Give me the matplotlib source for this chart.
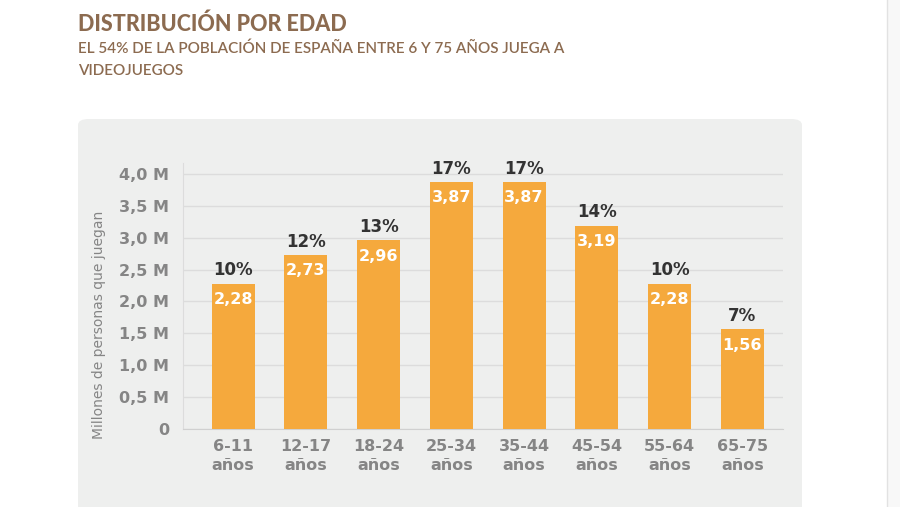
import matplotlib.pyplot as plt
from matplotlib.patches import FancyBboxPatch, Rectangle
from matplotlib.lines import Line2D

# datos
categorias = ['6-11\naños', '12-17\naños', '18-24\naños', '25-34\naños',
              '35-44\naños', '45-54\naños', '55-64\naños', '65-75\naños']
millones = [2.28, 2.73, 2.96, 3.87, 3.87, 3.19, 2.28, 1.56]
porcentajes = [10, 12, 13, 17, 17, 14, 10, 7]
ticks_y = [0, 0.5, 1.0, 1.5, 2.0, 2.5, 3.0, 3.5, 4.0]
ticks_y_txt = ['0', '0,5 M', '1,0 M', '1,5 M', '2,0 M', '2,5 M', '3,0 M', '3,5 M', '4,0 M']

plt.rcParams['font.family'] = ['DejaVu Sans']

marron = '#8c6b50'
gris = '#858585'
naranja = '#f5a93d'

fig = plt.figure(figsize=(9, 5.07), dpi=100)
fig.patch.set_facecolor('white')

# panel gris de fondo
panel = FancyBboxPatch((78 / 900, -0.1), (802 - 78) / 900, (507 - 119) / 507 + 0.1,
                       boxstyle='round,pad=0,rounding_size=0.012',
                       transform=fig.transFigure, facecolor='#eeefee',
                       edgecolor='none', zorder=-2)
fig.patches.append(panel)
# franja derecha
fig.patches.append(Rectangle((887 / 900, 0), 13 / 900, 1, transform=fig.transFigure,
                             facecolor='#f8f8f8', edgecolor='none', zorder=-2))
fig.lines.append(Line2D([887 / 900, 887 / 900], [0, 1], transform=fig.transFigure,
                        color='#e2e2e2', lw=1, zorder=-1))

# titulos
fig.text(78 / 900, 1 - 31 / 507, 'DISTRIBUCIÓN POR EDAD', color=marron,
         fontsize=15.5, fontweight='black', family=['Lato', 'DejaVu Sans'],
         ha='left', va='baseline')
fig.text(78 / 900, 1 - 53 / 507, 'EL 54% DE LA POBLACIÓN DE ESPAÑA ENTRE 6 Y 75 AÑOS JUEGA A',
         color=marron, fontsize=11, fontweight='semibold', family=['Lato', 'DejaVu Sans'],
         ha='left', va='baseline')
fig.text(78 / 900, 1 - 75 / 507, 'VIDEOJUEGOS', color=marron,
         fontsize=11, fontweight='semibold', family=['Lato', 'DejaVu Sans'],
         ha='left', va='baseline')

ax = fig.add_axes([183 / 900, 1 - 429 / 507, 600 / 900, (429 - 163) / 507])
ax.set_facecolor('none')

x = range(len(categorias))
ax.bar(x, millones, width=0.59, color=naranja, zorder=3)

for i in x:
    ax.annotate(f'{porcentajes[i]}%', (i, millones[i]), xytext=(0, 3),
                textcoords='offset points', ha='center', va='bottom',
                fontsize=12, fontweight='bold', color='#333333')
    ax.annotate(f'{millones[i]:.2f}'.replace('.', ','), (i, millones[i]), xytext=(0, -6),
                textcoords='offset points', ha='center', va='top',
                fontsize=11.5, fontweight='bold', color='white', zorder=4)

ax.set_xlim(-0.69, 7.56)
ax.set_ylim(0, 4.17)
ax.set_yticks(ticks_y)
ax.set_yticklabels(ticks_y_txt)
ax.set_xticks(list(x))
ax.set_xticklabels(categorias, linespacing=1.35)

ax.tick_params(axis='y', length=0, pad=10, labelsize=11.5, labelcolor=gris)
ax.tick_params(axis='x', length=0, pad=7, labelsize=11.5, labelcolor=gris)
for lab in ax.get_xticklabels() + ax.get_yticklabels():
    lab.set_fontweight('bold')

ax.grid(axis='y', color='#dcdcdc', lw=1, zorder=0)
for s in ['top', 'right']:
    ax.spines[s].set_visible(False)
ax.spines['left'].set_color('#dcdcdc')
ax.spines['bottom'].set_color('#d0d0d0')

ax.set_ylabel('Millones de personas que juegan', fontsize=10, color=gris,
              fontweight='medium')
ax.yaxis.set_label_coords(-0.128, 0.39)

plt.savefig('out.png', dpi=100)
